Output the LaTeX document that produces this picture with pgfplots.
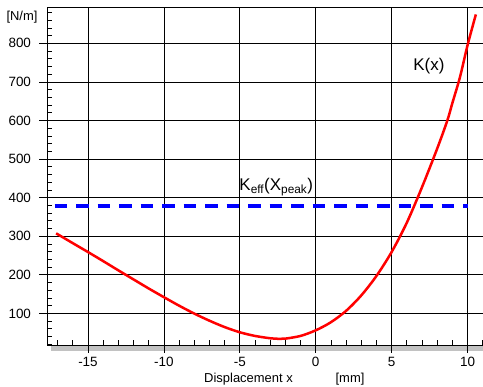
\documentclass[border=0pt]{standalone}
\usepackage{pgfplots}
\pgfplotsset{compat=1.18}
\usepackage{fontspec}
\setmainfont{Liberation Sans}
\begin{document}
\fontsize{13}{15}\selectfont
\begin{tikzpicture}
\useasboundingbox (-47bp,-42bp) rectangle (436bp,345bp);
\fill[black!24] (4bp,-6bp) rectangle (436bp,-0.5bp);
\pgfplotsset{base/.style={
  at={(0,0)}, anchor=south west,
  scale only axis, width=436bp, height=337.5bp,
  xmin=-17.7, xmax=11.02, ymin=18, ymax=893,
  xtick={-15,-10,...,10}, ytick={100,200,...,800},
  xtick pos=bottom, ytick pos=left,
  tick style={black, line width=0.7bp},
  clip=false}}
\begin{axis}[base,
  axis y line*=left,
  tick align=inside,
  major tick length=0pt, minor tick length=5bp,
  minor xtick={-17,-16,...,11}, minor ytick={20,40,...,880},
  grid=major, major grid style={black, line width=0.7bp},
  axis line style={black, line width=0.8bp},
  /pgf/number format/assume math mode=true,
  ticklabel style={font=\fontsize{13.5}{16}\selectfont},
  xticklabel style={yshift=-7.5bp},
  yticklabel style={xshift=-11.5bp},
]
\addplot[red, line width=2.5bp, smooth] coordinates {
(-17.1,307.5) (-16,282) (-15,259) (-14,235.5) (-13,211.5) (-12,188) (-11,164.5)
(-10,142) (-9,120) (-8,99.5) (-7,81) (-6,64.5) (-5,51) (-4,41.5) (-3,35.5)
(-2.4,34) (-2,34.5) (-1,41.5) (0,56) (1,77) (2,106.5) (3,146.5) (4,197)
(5,259) (6,335) (7,427) (8,527) (8.67,600) (9,645) (9.5,712) (10,795) (10.55,875)};
\addplot[blue, line width=3.5bp, dash pattern=on 12.5bp off 9bp] coordinates {(-17.2,378) (10,378)};
\node at (axis cs:7.46,741) {\fontsize{17}{20}\selectfont K(x)};
\node at (axis cs:-2.6,427) {\fontsize{17}{20}\selectfont K\textsubscript{eff}(X\textsubscript{peak})};
\end{axis}
\begin{axis}[base,
  tick align=outside, major tick length=7.5bp,
  xticklabels={}, yticklabels={},
  axis line style={draw=none},
]
\end{axis}
\node at (-25bp,328bp) {[N/m]};
\node at (201.5bp,-34bp) {Displacement x};
\node at (303bp,-34bp) {[mm]};
\end{tikzpicture}
\end{document}
